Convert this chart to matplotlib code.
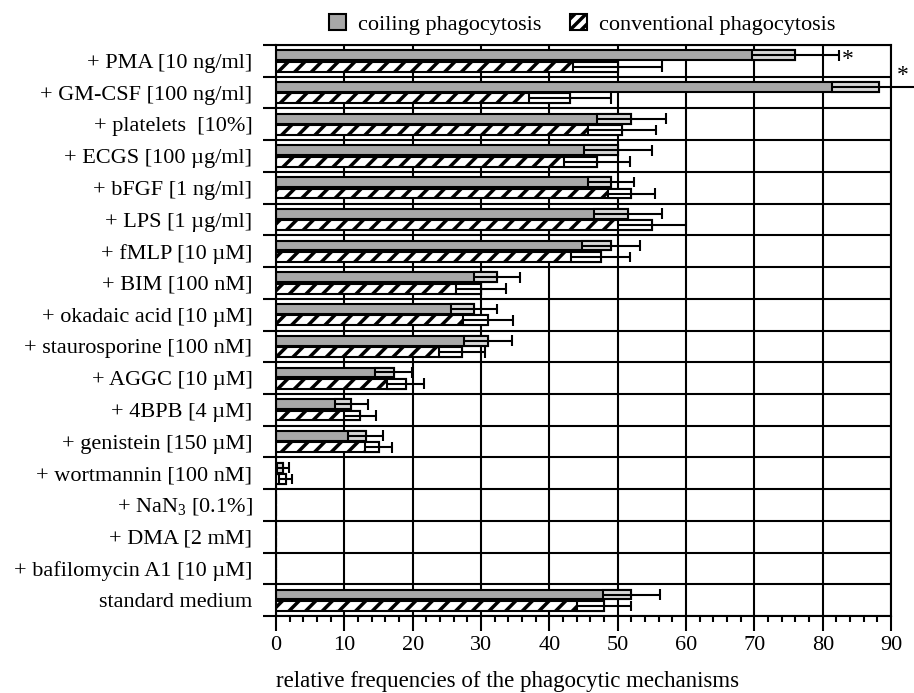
#!/usr/bin/env python3
"""Coiling vs conventional phagocytosis under different treatments."""
import matplotlib
matplotlib.use("Agg")
import matplotlib.pyplot as plt
from matplotlib.patches import Patch
import numpy as np

plt.rcParams["font.family"] = ["Liberation Serif", "DejaVu Serif"]
plt.rcParams["mathtext.fontset"] = "custom"
plt.rcParams["mathtext.rm"] = "Liberation Serif"
plt.rcParams["hatch.linewidth"] = 2.5

labels = ["+ PMA [10 ng/ml]", "+ GM-CSF [100 ng/ml]", "+ platelets  [10%]",
          "+ ECGS [100 µg/ml]", "+ bFGF [1 ng/ml]", "+ LPS [1 µg/ml]",
          "+ fMLP [10 µM]", "+ BIM [100 nM]", "+ okadaic acid [10 µM]",
          "+ staurosporine [100 nM]", "+ AGGC [10 µM]", "+ 4BPB [4 µM]",
          "+ genistein [150 µM]", "+ wortmannin [100 nM]",
          r"+ NaN$_\mathrm{3}$ [0.1%]", "+ DMA [2 mM]",
          "+ bafilomycin A1 [10 µM]", "standard medium"]
coiling = [76.0, 88.2, 52.0, 50.0, 49.0, 51.5, 49.0, 32.3, 29.0, 31.0,
           17.2, 11.0, 13.1, 1.0, 0, 0, 0, 52.0]
coiling_err = [6.3, 6.8, 5.0, 5.0, 3.4, 5.0, 4.2, 3.4, 3.4, 3.5,
               2.7, 2.4, 2.5, 0.9, 0, 0, 0, 4.2]
conventional = [50.0, 43.0, 50.6, 47.0, 52.0, 55.0, 47.5, 30.0, 31.0, 27.2,
                19.0, 12.3, 15.0, 1.4, 0, 0, 0, 48.0]
conventional_err = [6.5, 6.0, 5.0, 4.8, 3.4, 5.0, 4.3, 3.6, 3.6, 3.4,
                    2.7, 2.4, 2.0, 1.0, 0, 0, 0, 4.0]
starred = [0, 1]

n = len(labels)
rows = np.arange(n)
y_coil = rows + 0.32
y_conv = rows + 0.68
h = 0.31
fs = 16

fig = plt.figure(figsize=(9.14, 6.93), dpi=100)
ax = fig.add_axes([0.302, 0.111, 0.673, 0.824])

gray = "#a8a8a8"
ax.barh(y_coil, coiling, height=h, color=gray, edgecolor="black", linewidth=1.5, zorder=2)
ax.barh(y_conv, conventional, height=h, color="white", edgecolor="black",
        hatch="//", linewidth=1.5, zorder=2)

# SE drawn as a lighter box below the mean and a capped whisker above it
for y, v, e, face in [(y_coil, coiling, coiling_err, "#d6d6d6"),
                      (y_conv, conventional, conventional_err, "white")]:
    v = np.array(v)
    e = np.array(e)
    m = e > 0
    ax.barh(y[m], e[m], left=v[m] - e[m], height=h, color=face,
            edgecolor="black", linewidth=1.5, zorder=3)
    ax.hlines(y[m], v[m] - e[m], v[m] + e[m], color="black", linewidth=1.5,
              zorder=4, clip_on=False)
    ax.vlines(v[m] + e[m], y[m] - 0.17, y[m] + 0.17, color="black",
              linewidth=1.5, zorder=4, clip_on=False)

for i in starred:
    end = coiling[i] + coiling_err[i]
    if end > 90:
        ax.annotate("*", (90, y_coil[i]), textcoords="offset points",
                    xytext=(8.5, 1), ha="center", va="bottom", fontsize=17,
                    annotation_clip=False)
    else:
        ax.annotate("*", (end, y_coil[i]), textcoords="offset points",
                    xytext=(7, -3), ha="center", va="center", fontsize=17,
                    annotation_clip=False)

ax.set_xlim(0, 90)
ax.set_ylim(n, 0)
ax.set_xticks(np.arange(0, 91, 10))
ax.set_xticks(np.arange(0, 91, 2), minor=True)
ax.set_yticks(np.arange(0, n + 1))
ax.set_yticklabels([])
ax.set_yticks(rows + 0.5, minor=True)
ax.set_yticklabels(labels, minor=True)
ax.tick_params(axis="y", which="major", direction="out", length=9.5, width=1.5)
ax.tick_params(axis="y", which="minor", length=0, pad=17, labelsize=fs)
ax.tick_params(axis="x", which="major", direction="out", length=11, width=1.5,
               labelsize=fs, pad=3)
ax.tick_params(axis="x", which="minor", direction="out", length=4.5, width=1.5)
ax.grid(True, which="major", color="black", linewidth=1.5)
ax.set_axisbelow(True)
for s in ax.spines.values():
    s.set_linewidth(1.5)

ax.set_xlabel("relative frequencies of the phagocytic mechanisms",
              fontsize=16.5, labelpad=12, loc="left")

handles = [Patch(facecolor=gray, edgecolor="black", linewidth=1.5),
           Patch(facecolor="white", edgecolor="black", hatch="///", linewidth=1.5)]
fig.legend(handles, ["coiling phagocytosis", "conventional phagocytosis"],
           loc="center", bbox_to_anchor=(0.637, 0.965), ncol=2, frameon=False,
           fontsize=fs, handlelength=0.75, handleheight=0.75,
           handletextpad=0.55, columnspacing=1.3)

plt.savefig("out.png", dpi=100)
print("saved out.png")
